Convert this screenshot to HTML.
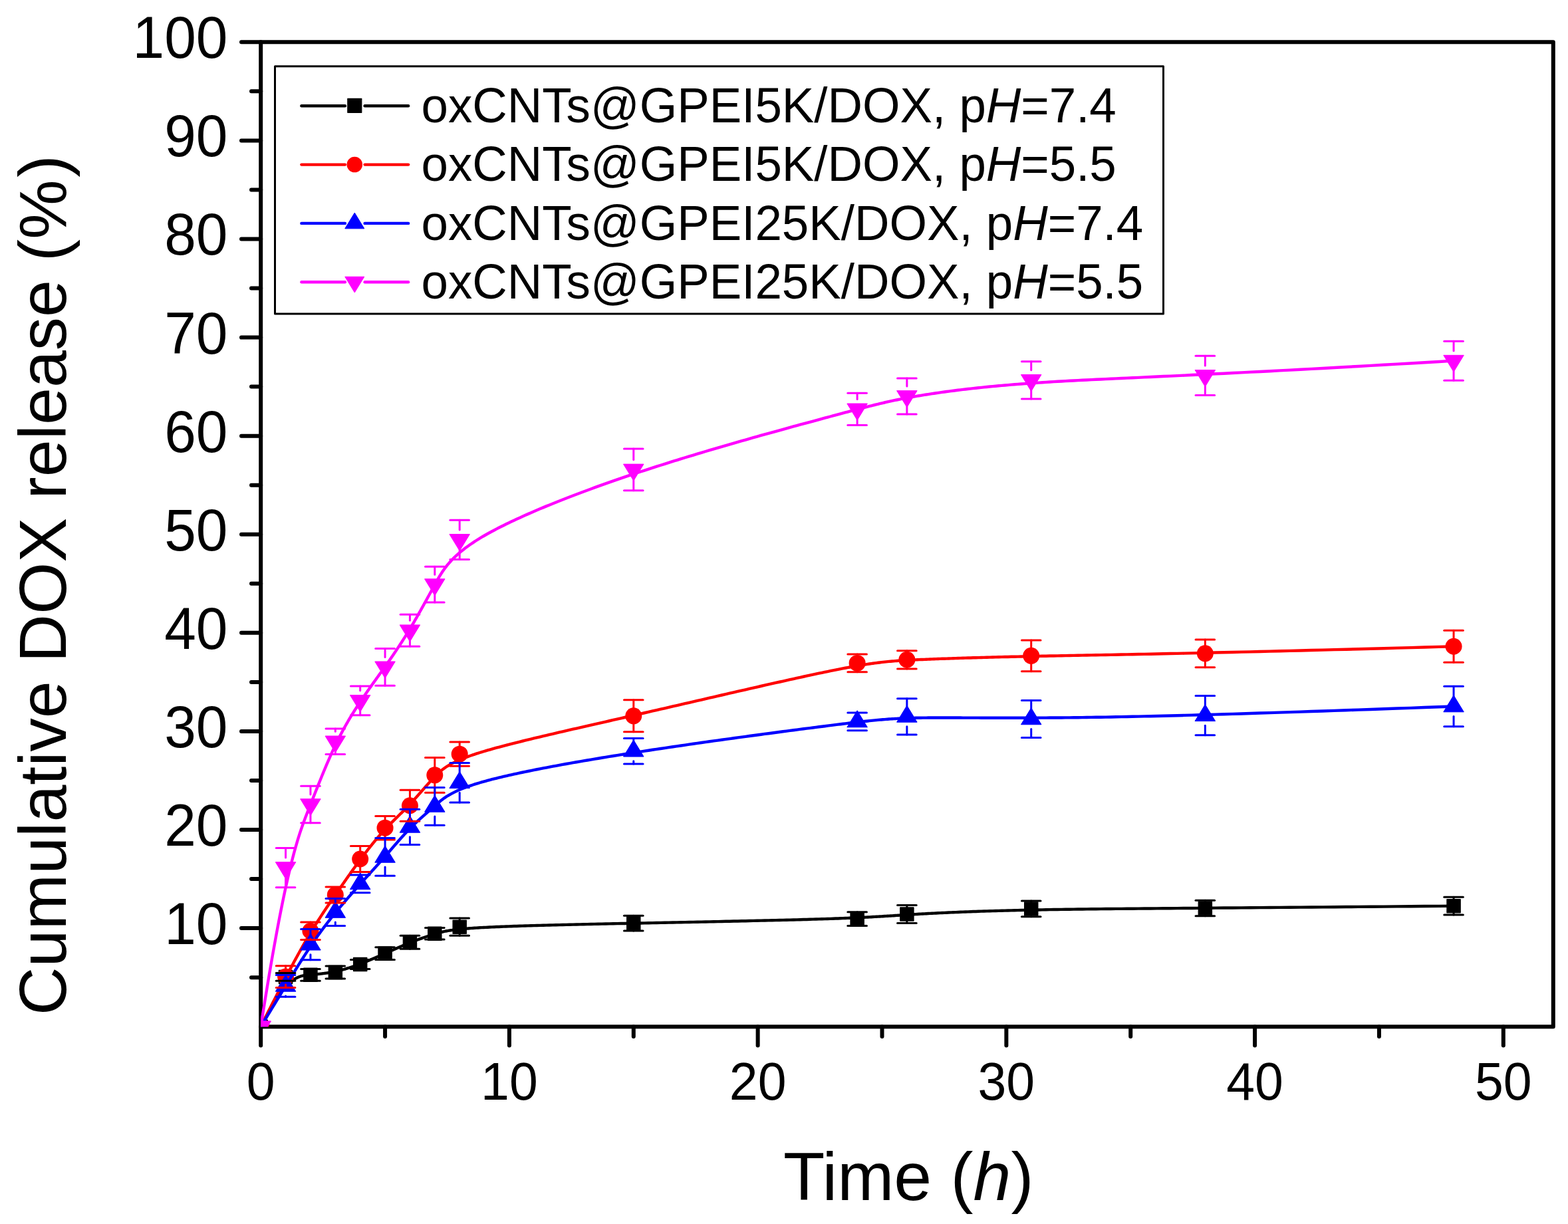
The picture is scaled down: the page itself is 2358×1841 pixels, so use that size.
<!DOCTYPE html>
<html><head><meta charset="utf-8"><title>Cumulative DOX release</title>
<style>html,body{margin:0;padding:0;background:#fff;}svg{display:block;}
text{font-family:"Liberation Sans",Arial,sans-serif;fill:#000;}</style></head>
<body>
<svg width="2358" height="1841" viewBox="0 0 2358 1841">
<rect width="2358" height="1841" fill="#fff"/>
<defs><clipPath id="plot"><rect x="392.2" y="63.3" width="1943.6" height="1480.9"/></clipPath></defs>

<g stroke="#000" stroke-width="6" fill="none" stroke-linecap="round">
<rect x="392.2" y="63.3" width="1943.6" height="1480.9" stroke-linejoin="round"/>
<line x1="392.2" y1="1396.11" x2="363" y2="1396.11"/>
<line x1="392.2" y1="1248.02" x2="363" y2="1248.02"/>
<line x1="392.2" y1="1099.93" x2="363" y2="1099.93"/>
<line x1="392.2" y1="951.84" x2="363" y2="951.84"/>
<line x1="392.2" y1="803.75" x2="363" y2="803.75"/>
<line x1="392.2" y1="655.66" x2="363" y2="655.66"/>
<line x1="392.2" y1="507.57" x2="363" y2="507.57"/>
<line x1="392.2" y1="359.48" x2="363" y2="359.48"/>
<line x1="392.2" y1="211.39" x2="363" y2="211.39"/>
<line x1="392.2" y1="63.30" x2="363" y2="63.30"/>
<line x1="392.2" y1="1470.15" x2="378" y2="1470.15"/>
<line x1="392.2" y1="1322.07" x2="378" y2="1322.07"/>
<line x1="392.2" y1="1173.98" x2="378" y2="1173.98"/>
<line x1="392.2" y1="1025.89" x2="378" y2="1025.89"/>
<line x1="392.2" y1="877.80" x2="378" y2="877.80"/>
<line x1="392.2" y1="729.71" x2="378" y2="729.71"/>
<line x1="392.2" y1="581.62" x2="378" y2="581.62"/>
<line x1="392.2" y1="433.53" x2="378" y2="433.53"/>
<line x1="392.2" y1="285.44" x2="378" y2="285.44"/>
<line x1="392.2" y1="137.35" x2="378" y2="137.35"/>
<line x1="392.20" y1="1544.2" x2="392.20" y2="1572.6"/>
<line x1="765.92" y1="1544.2" x2="765.92" y2="1572.6"/>
<line x1="1139.64" y1="1544.2" x2="1139.64" y2="1572.6"/>
<line x1="1513.36" y1="1544.2" x2="1513.36" y2="1572.6"/>
<line x1="1887.08" y1="1544.2" x2="1887.08" y2="1572.6"/>
<line x1="2260.80" y1="1544.2" x2="2260.80" y2="1572.6"/>
<line x1="579.06" y1="1544.2" x2="579.06" y2="1559"/>
<line x1="952.78" y1="1544.2" x2="952.78" y2="1559"/>
<line x1="1326.50" y1="1544.2" x2="1326.50" y2="1559"/>
<line x1="1700.22" y1="1544.2" x2="1700.22" y2="1559"/>
<line x1="2073.94" y1="1544.2" x2="2073.94" y2="1559"/>
</g>
<text transform="translate(342.4,1420.11) scale(1,1.036)" font-size="85.6" text-anchor="end">10</text>
<text transform="translate(342.4,1272.02) scale(1,1.036)" font-size="85.6" text-anchor="end">20</text>
<text transform="translate(342.4,1123.93) scale(1,1.036)" font-size="85.6" text-anchor="end">30</text>
<text transform="translate(342.4,975.84) scale(1,1.036)" font-size="85.6" text-anchor="end">40</text>
<text transform="translate(342.4,827.75) scale(1,1.036)" font-size="85.6" text-anchor="end">50</text>
<text transform="translate(342.4,679.66) scale(1,1.036)" font-size="85.6" text-anchor="end">60</text>
<text transform="translate(342.4,531.57) scale(1,1.036)" font-size="85.6" text-anchor="end">70</text>
<text transform="translate(342.4,383.48) scale(1,1.036)" font-size="85.6" text-anchor="end">80</text>
<text transform="translate(342.4,235.39) scale(1,1.036)" font-size="85.6" text-anchor="end">90</text>
<text transform="translate(342.4,87.30) scale(1,1.036)" font-size="85.6" text-anchor="end">100</text>
<text transform="translate(392.20,1653.6) scale(1,1.04)" font-size="77" text-anchor="middle">0</text>
<text transform="translate(765.92,1653.6) scale(1,1.04)" font-size="77" text-anchor="middle">10</text>
<text transform="translate(1139.64,1653.6) scale(1,1.04)" font-size="77" text-anchor="middle">20</text>
<text transform="translate(1513.36,1653.6) scale(1,1.04)" font-size="77" text-anchor="middle">30</text>
<text transform="translate(1887.08,1653.6) scale(1,1.04)" font-size="77" text-anchor="middle">40</text>
<text transform="translate(2260.80,1653.6) scale(1,1.04)" font-size="77" text-anchor="middle">50</text>
<text transform="translate(1177.9,1805.2) scale(1,1.0)" font-size="102.2">Time (<tspan font-style="italic">h</tspan>)</text>
<text transform="translate(98.8,1527) rotate(-90)" font-size="100.5">Cumulative DOX release (<tspan letter-spacing="3.5">%</tspan>)</text>
<g clip-path="url(#plot)">
<path d="M392.20,1544.20 L394.42,1539.79 L396.60,1535.56 L398.74,1531.49 L400.83,1527.59 L402.88,1523.86 L404.89,1520.28 L406.86,1516.86 L408.79,1513.59 L410.68,1510.46 L412.54,1507.48 L414.35,1504.65 L416.13,1501.95 L417.87,1499.38 L419.58,1496.94 L421.25,1494.64 L422.89,1492.45 L424.50,1490.39 L426.07,1488.44 L427.61,1486.60 L429.12,1484.88 L430.61,1483.26 L432.06,1481.74 L433.48,1480.32 L434.88,1478.99 L436.25,1477.76 L437.59,1476.62 L438.91,1475.56 L440.20,1474.58 L441.47,1473.68 L442.71,1472.85 L443.94,1472.10 L445.14,1471.41 L446.32,1470.78 L447.48,1470.22 L448.62,1469.71 L449.74,1469.25 L450.85,1468.85 L451.93,1468.49 L453.00,1468.17 L454.06,1467.89 L455.10,1467.64 L456.12,1467.43 L457.14,1467.25 L458.14,1467.09 L459.12,1466.95 L460.10,1466.83 L461.07,1466.73 L462.02,1466.63 L462.97,1466.54 L463.91,1466.46 L464.84,1466.37 L465.76,1466.29 L466.68,1466.21 L467.59,1466.13 L468.49,1466.04 L469.39,1465.96 L470.28,1465.88 L471.16,1465.79 L472.04,1465.71 L472.91,1465.63 L473.78,1465.54 L474.63,1465.46 L475.49,1465.37 L476.34,1465.29 L477.18,1465.20 L478.02,1465.11 L478.85,1465.03 L479.68,1464.94 L480.50,1464.85 L481.32,1464.76 L482.13,1464.67 L482.94,1464.57 L483.74,1464.48 L484.54,1464.38 L485.34,1464.29 L486.13,1464.19 L486.92,1464.09 L487.71,1463.98 L488.49,1463.88 L489.27,1463.78 L490.05,1463.67 L490.82,1463.56 L491.59,1463.45 L492.36,1463.33 L493.13,1463.22 L493.89,1463.10 L494.65,1462.98 L495.42,1462.86 L496.17,1462.73 L496.93,1462.60 L497.69,1462.47 L498.44,1462.34 L499.19,1462.21 L499.94,1462.07 L500.69,1461.92 L501.44,1461.78 L502.19,1461.63 L502.94,1461.48 L503.69,1461.33 L504.44,1461.17 L505.19,1461.01 L505.94,1460.84 L506.69,1460.68 L507.44,1460.51 L508.18,1460.33 L508.93,1460.15 L509.68,1459.97 L510.43,1459.79 L511.18,1459.60 L511.93,1459.41 L512.68,1459.22 L513.43,1459.02 L514.17,1458.83 L514.92,1458.62 L515.67,1458.42 L516.42,1458.21 L517.17,1458.00 L517.92,1457.79 L518.67,1457.57 L519.41,1457.35 L520.16,1457.13 L520.91,1456.91 L521.66,1456.68 L522.41,1456.45 L523.16,1456.22 L523.91,1455.99 L524.66,1455.75 L525.40,1455.51 L526.15,1455.27 L526.90,1455.02 L527.65,1454.78 L528.40,1454.53 L529.15,1454.28 L529.90,1454.02 L530.64,1453.77 L531.39,1453.51 L532.14,1453.25 L532.89,1452.99 L533.64,1452.73 L534.39,1452.46 L535.14,1452.19 L535.89,1451.92 L536.63,1451.65 L537.38,1451.38 L538.13,1451.10 L538.88,1450.82 L539.63,1450.54 L540.38,1450.26 L541.13,1449.98 L541.88,1449.70 L542.62,1449.41 L543.37,1449.12 L544.12,1448.83 L544.87,1448.54 L545.62,1448.25 L546.37,1447.96 L547.12,1447.66 L547.86,1447.36 L548.61,1447.07 L549.36,1446.77 L550.11,1446.47 L550.86,1446.16 L551.61,1445.86 L552.36,1445.55 L553.11,1445.25 L553.85,1444.94 L554.60,1444.63 L555.35,1444.32 L556.10,1444.01 L556.85,1443.70 L557.60,1443.39 L558.35,1443.07 L559.09,1442.76 L559.84,1442.44 L560.59,1442.12 L561.34,1441.80 L562.09,1441.49 L562.84,1441.17 L563.59,1440.84 L564.34,1440.52 L565.08,1440.20 L565.83,1439.88 L566.58,1439.55 L567.33,1439.23 L568.08,1438.90 L568.83,1438.58 L569.58,1438.25 L570.33,1437.92 L571.07,1437.60 L571.82,1437.27 L572.57,1436.94 L573.32,1436.61 L574.07,1436.28 L574.82,1435.95 L575.57,1435.62 L576.31,1435.29 L577.06,1434.96 L577.81,1434.62 L578.56,1434.29 L579.31,1433.96 L580.06,1433.63 L580.81,1433.29 L581.56,1432.96 L582.30,1432.63 L583.05,1432.30 L583.80,1431.96 L584.55,1431.63 L585.30,1431.30 L586.05,1430.96 L586.80,1430.63 L587.55,1430.30 L588.29,1429.97 L589.04,1429.63 L589.79,1429.30 L590.54,1428.97 L591.29,1428.64 L592.04,1428.31 L592.79,1427.98 L593.53,1427.65 L594.28,1427.32 L595.03,1426.99 L595.78,1426.66 L596.53,1426.33 L597.28,1426.00 L598.03,1425.67 L598.78,1425.35 L599.52,1425.02 L600.27,1424.70 L601.02,1424.37 L601.77,1424.05 L602.52,1423.73 L603.27,1423.40 L604.02,1423.08 L604.76,1422.76 L605.51,1422.44 L606.26,1422.13 L607.01,1421.81 L607.76,1421.49 L608.51,1421.18 L609.26,1420.87 L610.01,1420.55 L610.75,1420.24 L611.50,1419.93 L612.25,1419.62 L613.00,1419.32 L613.75,1419.01 L614.50,1418.71 L615.25,1418.40 L616.00,1418.10 L616.74,1417.80 L617.49,1417.51 L618.24,1417.21 L618.99,1416.91 L619.74,1416.62 L620.49,1416.33 L621.24,1416.04 L621.98,1415.75 L622.73,1415.46 L623.48,1415.17 L624.23,1414.89 L624.98,1414.61 L625.73,1414.32 L626.48,1414.04 L627.23,1413.77 L627.97,1413.49 L628.72,1413.21 L629.47,1412.94 L630.22,1412.66 L630.97,1412.39 L631.72,1412.12 L632.47,1411.85 L633.22,1411.59 L633.96,1411.32 L634.71,1411.06 L635.46,1410.79 L636.21,1410.53 L636.96,1410.27 L637.71,1410.01 L638.46,1409.75 L639.20,1409.50 L639.95,1409.24 L640.70,1408.99 L641.45,1408.73 L642.20,1408.48 L642.95,1408.23 L643.70,1407.98 L644.45,1407.74 L645.19,1407.49 L645.94,1407.25 L646.69,1407.00 L647.44,1406.76 L648.19,1406.52 L648.94,1406.28 L649.69,1406.04 L650.43,1405.80 L651.18,1405.57 L651.93,1405.33 L652.68,1405.10 L653.43,1404.86 L654.18,1404.63 L654.93,1404.40 L655.68,1404.17 L656.44,1403.95 L657.20,1403.72 L657.97,1403.49 L658.75,1403.27 L659.55,1403.05 L660.35,1402.83 L661.17,1402.61 L662.01,1402.39 L662.87,1402.17 L663.75,1401.95 L664.65,1401.74 L665.58,1401.52 L666.53,1401.31 L667.51,1401.10 L668.52,1400.89 L669.56,1400.68 L670.63,1400.48 L671.74,1400.27 L672.89,1400.07 L674.07,1399.87 L675.30,1399.66 L676.57,1399.47 L677.88,1399.27 L679.24,1399.07 L680.64,1398.88 L682.10,1398.68 L683.60,1398.49 L685.16,1398.30 L686.78,1398.11 L688.45,1397.92 L690.18,1397.74 L691.97,1397.55 L693.83,1397.37 L695.74,1397.19 L697.73,1397.01 L699.78,1396.83 L701.90,1396.66 L704.09,1396.48 L706.35,1396.31 L708.69,1396.14 L711.10,1395.97 L713.60,1395.80 L716.17,1395.64 L718.83,1395.47 L721.57,1395.31 L724.39,1395.15 L727.31,1394.99 L730.31,1394.83 L733.40,1394.68 L736.58,1394.52 L739.85,1394.37 L743.20,1394.22 L746.64,1394.07 L750.16,1393.93 L753.76,1393.78 L757.44,1393.64 L761.20,1393.49 L765.04,1393.35 L768.96,1393.21 L772.96,1393.07 L777.03,1392.94 L781.17,1392.80 L785.39,1392.66 L789.67,1392.53 L794.03,1392.40 L798.45,1392.27 L802.95,1392.13 L807.51,1392.00 L812.13,1391.88 L816.82,1391.75 L821.57,1391.62 L826.39,1391.49 L831.26,1391.37 L836.19,1391.24 L841.18,1391.12 L846.23,1390.99 L851.34,1390.87 L856.49,1390.75 L861.71,1390.62 L866.97,1390.50 L872.28,1390.38 L877.65,1390.26 L883.06,1390.14 L888.52,1390.02 L894.02,1389.90 L899.57,1389.78 L905.17,1389.66 L910.80,1389.53 L916.48,1389.41 L922.20,1389.29 L927.96,1389.17 L933.75,1389.05 L939.58,1388.93 L945.45,1388.81 L951.35,1388.69 L957.28,1388.57 L963.24,1388.45 L969.24,1388.33 L975.26,1388.21 L981.31,1388.08 L987.38,1387.96 L993.47,1387.84 L999.58,1387.71 L1005.70,1387.59 L1011.84,1387.47 L1017.98,1387.34 L1024.13,1387.22 L1030.28,1387.09 L1036.44,1386.97 L1042.59,1386.84 L1048.74,1386.71 L1054.89,1386.59 L1061.02,1386.46 L1067.14,1386.33 L1073.25,1386.21 L1079.34,1386.08 L1085.40,1385.95 L1091.45,1385.82 L1097.47,1385.69 L1103.46,1385.57 L1109.42,1385.44 L1115.34,1385.31 L1121.23,1385.18 L1127.08,1385.05 L1132.88,1384.92 L1138.64,1384.79 L1144.36,1384.65 L1150.02,1384.52 L1155.63,1384.39 L1161.19,1384.26 L1166.69,1384.13 L1172.12,1383.99 L1177.49,1383.86 L1182.80,1383.73 L1188.04,1383.60 L1193.20,1383.46 L1198.29,1383.33 L1203.30,1383.19 L1208.24,1383.06 L1213.09,1382.93 L1217.85,1382.79 L1222.53,1382.66 L1227.11,1382.52 L1231.61,1382.38 L1236.00,1382.25 L1240.30,1382.11 L1244.49,1381.98 L1248.59,1381.84 L1252.58,1381.70 L1256.46,1381.57 L1260.26,1381.43 L1263.96,1381.29 L1267.56,1381.15 L1271.08,1381.02 L1274.52,1380.88 L1277.87,1380.74 L1281.15,1380.60 L1284.35,1380.46 L1287.48,1380.32 L1290.53,1380.18 L1293.52,1380.04 L1296.45,1379.90 L1299.32,1379.76 L1302.13,1379.62 L1304.88,1379.48 L1307.58,1379.34 L1310.23,1379.20 L1312.84,1379.06 L1315.41,1378.91 L1317.93,1378.77 L1320.42,1378.63 L1322.88,1378.49 L1325.30,1378.34 L1327.70,1378.20 L1330.07,1378.06 L1332.42,1377.91 L1334.76,1377.77 L1337.07,1377.62 L1339.38,1377.48 L1341.67,1377.33 L1343.96,1377.19 L1346.24,1377.04 L1348.53,1376.89 L1350.81,1376.75 L1353.10,1376.60 L1355.40,1376.45 L1357.72,1376.31 L1360.04,1376.16 L1362.39,1376.01 L1364.75,1375.86 L1367.14,1375.71 L1369.55,1375.56 L1371.99,1375.41 L1374.47,1375.26 L1376.98,1375.11 L1379.53,1374.96 L1382.12,1374.81 L1384.76,1374.66 L1387.44,1374.51 L1390.17,1374.36 L1392.94,1374.20 L1395.76,1374.05 L1398.63,1373.90 L1401.55,1373.75 L1404.53,1373.59 L1407.55,1373.44 L1410.62,1373.29 L1413.75,1373.14 L1416.92,1372.99 L1420.16,1372.84 L1423.44,1372.68 L1426.79,1372.53 L1430.18,1372.38 L1433.64,1372.24 L1437.15,1372.09 L1440.73,1371.94 L1444.36,1371.79 L1448.05,1371.65 L1451.80,1371.50 L1455.61,1371.36 L1459.49,1371.21 L1463.42,1371.07 L1467.42,1370.93 L1471.49,1370.79 L1475.62,1370.65 L1479.82,1370.52 L1484.08,1370.38 L1488.41,1370.25 L1492.81,1370.11 L1497.28,1369.98 L1501.82,1369.85 L1506.43,1369.73 L1511.10,1369.60 L1515.86,1369.48 L1520.68,1369.35 L1525.58,1369.23 L1530.55,1369.11 L1535.59,1369.00 L1540.72,1368.88 L1545.91,1368.77 L1551.19,1368.66 L1556.54,1368.56 L1561.98,1368.45 L1567.49,1368.35 L1573.08,1368.25 L1578.75,1368.15 L1584.51,1368.05 L1590.34,1367.96 L1596.27,1367.87 L1602.31,1367.78 L1608.45,1367.70 L1614.71,1367.62 L1621.11,1367.53 L1627.65,1367.45 L1634.34,1367.37 L1641.20,1367.30 L1648.22,1367.22 L1655.43,1367.14 L1662.83,1367.07 L1670.43,1366.99 L1678.25,1366.92 L1686.29,1366.84 L1694.56,1366.77 L1703.07,1366.69 L1711.84,1366.61 L1720.87,1366.54 L1730.17,1366.46 L1739.75,1366.38 L1749.63,1366.30 L1759.81,1366.21 L1770.31,1366.13 L1781.12,1366.04 L1792.27,1365.95 L1803.77,1365.86 L1815.62,1365.77 L1827.83,1365.67 L1840.41,1365.57 L1853.38,1365.47 L1866.74,1365.36 L1880.51,1365.25 L1894.69,1365.14 L1909.29,1365.02 L1924.33,1364.90 L1939.81,1364.77 L1955.75,1364.64 L1972.15,1364.51 L1989.02,1364.36 L2006.38,1364.22 L2024.23,1364.07 L2042.59,1363.91 L2061.46,1363.75 L2080.86,1363.58 L2100.79,1363.41 L2121.26,1363.22 L2142.29,1363.04 L2163.89,1362.84 L2186.06,1362.64" fill="none" stroke="#000000" stroke-width="4.4" stroke-linejoin="round" stroke-linecap="round"/>
<rect x="382.05" y="1534.05" width="20.30" height="20.30" fill="#000000" stroke="#000000" stroke-width="1.2" stroke-linejoin="round"/>
<rect x="419.42" y="1459.26" width="20.30" height="20.30" fill="#000000" stroke="#000000" stroke-width="1.2" stroke-linejoin="round"/>
<rect x="456.79" y="1456.15" width="20.30" height="20.30" fill="#000000" stroke="#000000" stroke-width="1.2" stroke-linejoin="round"/>
<rect x="494.17" y="1452.45" width="20.30" height="20.30" fill="#000000" stroke="#000000" stroke-width="1.2" stroke-linejoin="round"/>
<rect x="531.54" y="1440.31" width="20.30" height="20.30" fill="#000000" stroke="#000000" stroke-width="1.2" stroke-linejoin="round"/>
<rect x="568.91" y="1424.02" width="20.30" height="20.30" fill="#000000" stroke="#000000" stroke-width="1.2" stroke-linejoin="round"/>
<rect x="606.28" y="1407.14" width="20.30" height="20.30" fill="#000000" stroke="#000000" stroke-width="1.2" stroke-linejoin="round"/>
<rect x="643.65" y="1394.10" width="20.30" height="20.30" fill="#000000" stroke="#000000" stroke-width="1.2" stroke-linejoin="round"/>
<rect x="681.03" y="1384.03" width="20.30" height="20.30" fill="#000000" stroke="#000000" stroke-width="1.2" stroke-linejoin="round"/>
<rect x="942.63" y="1378.41" width="20.30" height="20.30" fill="#000000" stroke="#000000" stroke-width="1.2" stroke-linejoin="round"/>
<rect x="1278.98" y="1371.89" width="20.30" height="20.30" fill="#000000" stroke="#000000" stroke-width="1.2" stroke-linejoin="round"/>
<rect x="1353.72" y="1364.78" width="20.30" height="20.30" fill="#000000" stroke="#000000" stroke-width="1.2" stroke-linejoin="round"/>
<rect x="1540.58" y="1356.79" width="20.30" height="20.30" fill="#000000" stroke="#000000" stroke-width="1.2" stroke-linejoin="round"/>
<rect x="1802.19" y="1355.90" width="20.30" height="20.30" fill="#000000" stroke="#000000" stroke-width="1.2" stroke-linejoin="round"/>
<rect x="2175.91" y="1352.49" width="20.30" height="20.30" fill="#000000" stroke="#000000" stroke-width="1.2" stroke-linejoin="round"/>
<path d="M392.20,1544.20 L394.42,1539.74 L396.60,1535.37 L398.74,1531.10 L400.83,1526.92 L402.88,1522.83 L404.89,1518.83 L406.86,1514.92 L408.79,1511.10 L410.68,1507.36 L412.54,1503.71 L414.35,1500.14 L416.13,1496.65 L417.87,1493.24 L419.58,1489.90 L421.25,1486.64 L422.89,1483.46 L424.50,1480.35 L426.07,1477.31 L427.61,1474.34 L429.12,1471.44 L430.61,1468.60 L432.06,1465.83 L433.48,1463.13 L434.88,1460.48 L436.25,1457.90 L437.59,1455.37 L438.91,1452.90 L440.20,1450.49 L441.47,1448.13 L442.71,1445.82 L443.94,1443.57 L445.14,1441.36 L446.32,1439.20 L447.48,1437.09 L448.62,1435.02 L449.74,1433.00 L450.85,1431.01 L451.93,1429.07 L453.00,1427.16 L454.06,1425.29 L455.10,1423.46 L456.12,1421.66 L457.14,1419.89 L458.14,1418.15 L459.12,1416.45 L460.10,1414.76 L461.07,1413.11 L462.02,1411.48 L462.97,1409.87 L463.91,1408.28 L464.84,1406.71 L465.76,1405.17 L466.68,1403.64 L467.59,1402.13 L468.49,1400.63 L469.39,1399.16 L470.28,1397.70 L471.16,1396.26 L472.04,1394.83 L472.91,1393.42 L473.78,1392.03 L474.63,1390.65 L475.49,1389.29 L476.34,1387.94 L477.18,1386.61 L478.02,1385.29 L478.85,1383.98 L479.68,1382.69 L480.50,1381.41 L481.32,1380.14 L482.13,1378.88 L482.94,1377.63 L483.74,1376.40 L484.54,1375.17 L485.34,1373.96 L486.13,1372.76 L486.92,1371.56 L487.71,1370.38 L488.49,1369.20 L489.27,1368.03 L490.05,1366.87 L490.82,1365.72 L491.59,1364.57 L492.36,1363.43 L493.13,1362.30 L493.89,1361.17 L494.65,1360.05 L495.42,1358.93 L496.17,1357.82 L496.93,1356.71 L497.69,1355.61 L498.44,1354.51 L499.19,1353.42 L499.94,1352.32 L500.69,1351.23 L501.44,1350.14 L502.19,1349.06 L502.94,1347.97 L503.69,1346.89 L504.44,1345.80 L505.19,1344.72 L505.94,1343.63 L506.69,1342.55 L507.44,1341.47 L508.18,1340.38 L508.93,1339.30 L509.68,1338.22 L510.43,1337.14 L511.18,1336.06 L511.93,1334.98 L512.68,1333.90 L513.43,1332.82 L514.17,1331.74 L514.92,1330.66 L515.67,1329.59 L516.42,1328.51 L517.17,1327.44 L517.92,1326.37 L518.67,1325.29 L519.41,1324.22 L520.16,1323.15 L520.91,1322.09 L521.66,1321.02 L522.41,1319.95 L523.16,1318.89 L523.91,1317.83 L524.66,1316.77 L525.40,1315.71 L526.15,1314.65 L526.90,1313.60 L527.65,1312.54 L528.40,1311.49 L529.15,1310.44 L529.90,1309.39 L530.64,1308.35 L531.39,1307.30 L532.14,1306.26 L532.89,1305.22 L533.64,1304.18 L534.39,1303.15 L535.14,1302.12 L535.89,1301.09 L536.63,1300.06 L537.38,1299.03 L538.13,1298.01 L538.88,1296.99 L539.63,1295.97 L540.38,1294.96 L541.13,1293.94 L541.88,1292.94 L542.62,1291.93 L543.37,1290.93 L544.12,1289.92 L544.87,1288.93 L545.62,1287.93 L546.37,1286.94 L547.12,1285.95 L547.86,1284.97 L548.61,1283.99 L549.36,1283.01 L550.11,1282.03 L550.86,1281.06 L551.61,1280.09 L552.36,1279.13 L553.11,1278.17 L553.85,1277.21 L554.60,1276.25 L555.35,1275.30 L556.10,1274.36 L556.85,1273.42 L557.60,1272.48 L558.35,1271.54 L559.09,1270.61 L559.84,1269.68 L560.59,1268.76 L561.34,1267.84 L562.09,1266.93 L562.84,1266.02 L563.59,1265.11 L564.34,1264.21 L565.08,1263.31 L565.83,1262.42 L566.58,1261.53 L567.33,1260.65 L568.08,1259.77 L568.83,1258.89 L569.58,1258.02 L570.33,1257.16 L571.07,1256.30 L571.82,1255.44 L572.57,1254.59 L573.32,1253.74 L574.07,1252.90 L574.82,1252.07 L575.57,1251.24 L576.31,1250.41 L577.06,1249.59 L577.81,1248.78 L578.56,1247.96 L579.31,1247.16 L580.06,1246.36 L580.81,1245.57 L581.56,1244.78 L582.30,1243.99 L583.05,1243.21 L583.80,1242.43 L584.55,1241.66 L585.30,1240.89 L586.05,1240.13 L586.80,1239.37 L587.55,1238.61 L588.29,1237.85 L589.04,1237.10 L589.79,1236.35 L590.54,1235.60 L591.29,1234.86 L592.04,1234.12 L592.79,1233.37 L593.53,1232.63 L594.28,1231.90 L595.03,1231.16 L595.78,1230.42 L596.53,1229.69 L597.28,1228.95 L598.03,1228.22 L598.78,1227.48 L599.52,1226.75 L600.27,1226.01 L601.02,1225.27 L601.77,1224.54 L602.52,1223.80 L603.27,1223.06 L604.02,1222.32 L604.76,1221.58 L605.51,1220.84 L606.26,1220.09 L607.01,1219.34 L607.76,1218.59 L608.51,1217.84 L609.26,1217.09 L610.01,1216.33 L610.75,1215.57 L611.50,1214.80 L612.25,1214.03 L613.00,1213.26 L613.75,1212.48 L614.50,1211.70 L615.25,1210.92 L616.00,1210.13 L616.74,1209.33 L617.49,1208.53 L618.24,1207.73 L618.99,1206.92 L619.74,1206.11 L620.49,1205.29 L621.24,1204.47 L621.98,1203.65 L622.73,1202.82 L623.48,1201.99 L624.23,1201.15 L624.98,1200.32 L625.73,1199.48 L626.48,1198.63 L627.23,1197.79 L627.97,1196.94 L628.72,1196.10 L629.47,1195.25 L630.22,1194.40 L630.97,1193.55 L631.72,1192.70 L632.47,1191.84 L633.22,1190.99 L633.96,1190.14 L634.71,1189.28 L635.46,1188.43 L636.21,1187.58 L636.96,1186.73 L637.71,1185.87 L638.46,1185.03 L639.20,1184.18 L639.95,1183.33 L640.70,1182.48 L641.45,1181.64 L642.20,1180.80 L642.95,1179.96 L643.70,1179.12 L644.45,1178.29 L645.19,1177.46 L645.94,1176.63 L646.69,1175.81 L647.44,1174.99 L648.19,1174.17 L648.94,1173.36 L649.69,1172.55 L650.43,1171.75 L651.18,1170.95 L651.93,1170.16 L652.68,1169.37 L653.43,1168.59 L654.18,1167.81 L654.93,1167.04 L655.68,1166.27 L656.44,1165.51 L657.20,1164.75 L657.97,1164.00 L658.75,1163.25 L659.55,1162.51 L660.35,1161.77 L661.17,1161.03 L662.01,1160.29 L662.87,1159.56 L663.75,1158.82 L664.65,1158.09 L665.58,1157.37 L666.53,1156.64 L667.51,1155.91 L668.52,1155.18 L669.56,1154.46 L670.63,1153.73 L671.74,1153.00 L672.89,1152.28 L674.07,1151.55 L675.30,1150.82 L676.57,1150.08 L677.88,1149.35 L679.24,1148.61 L680.64,1147.87 L682.10,1147.13 L683.60,1146.38 L685.16,1145.63 L686.78,1144.88 L688.45,1144.12 L690.18,1143.36 L691.97,1142.59 L693.83,1141.81 L695.74,1141.03 L697.73,1140.25 L699.78,1139.46 L701.90,1138.66 L704.09,1137.85 L706.35,1137.04 L708.69,1136.22 L711.10,1135.39 L713.60,1134.56 L716.17,1133.71 L718.83,1132.86 L721.57,1131.99 L724.39,1131.12 L727.31,1130.24 L730.31,1129.35 L733.40,1128.44 L736.58,1127.53 L739.85,1126.61 L743.20,1125.68 L746.64,1124.73 L750.16,1123.78 L753.76,1122.81 L757.44,1121.84 L761.20,1120.86 L765.04,1119.86 L768.96,1118.86 L772.96,1117.85 L777.03,1116.82 L781.17,1115.79 L785.39,1114.75 L789.67,1113.69 L794.03,1112.63 L798.45,1111.56 L802.95,1110.47 L807.51,1109.38 L812.13,1108.28 L816.82,1107.17 L821.57,1106.05 L826.39,1104.92 L831.26,1103.78 L836.19,1102.63 L841.18,1101.47 L846.23,1100.30 L851.34,1099.12 L856.49,1097.93 L861.71,1096.73 L866.97,1095.53 L872.28,1094.31 L877.65,1093.09 L883.06,1091.85 L888.52,1090.61 L894.02,1089.35 L899.57,1088.09 L905.17,1086.82 L910.80,1085.54 L916.48,1084.25 L922.20,1082.95 L927.96,1081.64 L933.75,1080.33 L939.58,1079.00 L945.45,1077.66 L951.35,1076.32 L957.28,1074.97 L963.24,1073.61 L969.24,1072.24 L975.26,1070.86 L981.31,1069.47 L987.38,1068.08 L993.47,1066.68 L999.58,1065.27 L1005.70,1063.86 L1011.84,1062.45 L1017.98,1061.04 L1024.13,1059.62 L1030.28,1058.20 L1036.44,1056.78 L1042.59,1055.36 L1048.74,1053.94 L1054.89,1052.52 L1061.02,1051.11 L1067.14,1049.70 L1073.25,1048.29 L1079.34,1046.89 L1085.40,1045.49 L1091.45,1044.10 L1097.47,1042.72 L1103.46,1041.34 L1109.42,1039.98 L1115.34,1038.62 L1121.23,1037.27 L1127.08,1035.94 L1132.88,1034.61 L1138.64,1033.30 L1144.36,1032.00 L1150.02,1030.72 L1155.63,1029.45 L1161.19,1028.20 L1166.69,1026.96 L1172.12,1025.74 L1177.49,1024.54 L1182.80,1023.35 L1188.04,1022.19 L1193.20,1021.05 L1198.29,1019.92 L1203.30,1018.82 L1208.24,1017.75 L1213.09,1016.69 L1217.85,1015.66 L1222.53,1014.66 L1227.11,1013.68 L1231.61,1012.72 L1236.00,1011.80 L1240.30,1010.90 L1244.49,1010.03 L1248.59,1009.19 L1252.58,1008.38 L1256.46,1007.60 L1260.26,1006.85 L1263.96,1006.12 L1267.56,1005.42 L1271.08,1004.75 L1274.52,1004.10 L1277.87,1003.48 L1281.15,1002.88 L1284.35,1002.31 L1287.48,1001.76 L1290.53,1001.23 L1293.52,1000.72 L1296.45,1000.24 L1299.32,999.78 L1302.13,999.34 L1304.88,998.91 L1307.58,998.51 L1310.23,998.12 L1312.84,997.76 L1315.41,997.40 L1317.93,997.07 L1320.42,996.75 L1322.88,996.45 L1325.30,996.16 L1327.70,995.89 L1330.07,995.63 L1332.42,995.39 L1334.76,995.15 L1337.07,994.93 L1339.38,994.72 L1341.67,994.52 L1343.96,994.33 L1346.24,994.15 L1348.53,993.98 L1350.81,993.81 L1353.10,993.66 L1355.40,993.51 L1357.72,993.37 L1360.04,993.23 L1362.39,993.10 L1364.75,992.97 L1367.14,992.85 L1369.55,992.73 L1371.99,992.61 L1374.47,992.50 L1376.98,992.39 L1379.53,992.27 L1382.12,992.16 L1384.76,992.05 L1387.44,991.94 L1390.17,991.83 L1392.94,991.72 L1395.76,991.60 L1398.63,991.49 L1401.55,991.38 L1404.53,991.27 L1407.55,991.15 L1410.62,991.04 L1413.75,990.92 L1416.92,990.81 L1420.16,990.70 L1423.44,990.58 L1426.79,990.47 L1430.18,990.35 L1433.64,990.24 L1437.15,990.12 L1440.73,990.01 L1444.36,989.89 L1448.05,989.78 L1451.80,989.66 L1455.61,989.55 L1459.49,989.43 L1463.42,989.32 L1467.42,989.20 L1471.49,989.09 L1475.62,988.97 L1479.82,988.86 L1484.08,988.74 L1488.41,988.63 L1492.81,988.51 L1497.28,988.40 L1501.82,988.28 L1506.43,988.17 L1511.10,988.05 L1515.86,987.94 L1520.68,987.82 L1525.58,987.71 L1530.55,987.59 L1535.59,987.48 L1540.72,987.36 L1545.91,987.25 L1551.19,987.13 L1556.54,987.02 L1561.98,986.91 L1567.49,986.79 L1573.08,986.68 L1578.75,986.57 L1584.51,986.45 L1590.34,986.34 L1596.27,986.23 L1602.31,986.11 L1608.45,986.00 L1614.71,985.88 L1621.11,985.77 L1627.65,985.65 L1634.34,985.52 L1641.20,985.40 L1648.22,985.27 L1655.43,985.13 L1662.83,985.00 L1670.43,984.85 L1678.25,984.71 L1686.29,984.55 L1694.56,984.39 L1703.07,984.23 L1711.84,984.05 L1720.87,983.87 L1730.17,983.68 L1739.75,983.49 L1749.63,983.28 L1759.81,983.07 L1770.31,982.84 L1781.12,982.61 L1792.27,982.37 L1803.77,982.11 L1815.62,981.84 L1827.83,981.57 L1840.41,981.28 L1853.38,980.97 L1866.74,980.66 L1880.51,980.33 L1894.69,979.99 L1909.29,979.63 L1924.33,979.26 L1939.81,978.87 L1955.75,978.47 L1972.15,978.05 L1989.02,977.61 L2006.38,977.16 L2024.23,976.69 L2042.59,976.21 L2061.46,975.70 L2080.86,975.18 L2100.79,974.64 L2121.26,974.08 L2142.29,973.50 L2163.89,972.90 L2186.06,972.28" fill="none" stroke="#ff0000" stroke-width="4.4" stroke-linejoin="round" stroke-linecap="round"/>
<circle cx="392.20" cy="1544.20" r="12.50" fill="#ff0000"/>
<circle cx="429.57" cy="1469.12" r="12.50" fill="#ff0000"/>
<circle cx="466.94" cy="1400.26" r="12.50" fill="#ff0000"/>
<circle cx="504.32" cy="1345.91" r="12.50" fill="#ff0000"/>
<circle cx="541.69" cy="1292.00" r="12.50" fill="#ff0000"/>
<circle cx="579.06" cy="1245.21" r="12.50" fill="#ff0000"/>
<circle cx="616.43" cy="1211.74" r="12.50" fill="#ff0000"/>
<circle cx="653.80" cy="1165.83" r="12.50" fill="#ff0000"/>
<circle cx="691.18" cy="1134.14" r="12.50" fill="#ff0000"/>
<circle cx="952.78" cy="1076.83" r="12.50" fill="#ff0000"/>
<circle cx="1289.13" cy="997.45" r="12.50" fill="#ff0000"/>
<circle cx="1363.87" cy="992.27" r="12.50" fill="#ff0000"/>
<circle cx="1550.73" cy="986.34" r="12.50" fill="#ff0000"/>
<circle cx="1812.34" cy="982.79" r="12.50" fill="#ff0000"/>
<circle cx="2186.06" cy="972.28" r="12.50" fill="#ff0000"/>
<path d="M392.20,1544.20 L394.42,1540.55 L396.60,1536.97 L398.74,1533.47 L400.83,1530.03 L402.88,1526.66 L404.89,1523.36 L406.86,1520.13 L408.79,1516.96 L410.68,1513.85 L412.54,1510.81 L414.35,1507.83 L416.13,1504.90 L417.87,1502.04 L419.58,1499.24 L421.25,1496.50 L422.89,1493.81 L424.50,1491.17 L426.07,1488.59 L427.61,1486.07 L429.12,1483.59 L430.61,1481.17 L432.06,1478.79 L433.48,1476.47 L434.88,1474.19 L436.25,1471.95 L437.59,1469.77 L438.91,1467.62 L440.20,1465.52 L441.47,1463.47 L442.71,1461.45 L443.94,1459.47 L445.14,1457.53 L446.32,1455.63 L447.48,1453.77 L448.62,1451.94 L449.74,1450.15 L450.85,1448.38 L451.93,1446.65 L453.00,1444.96 L454.06,1443.29 L455.10,1441.65 L456.12,1440.04 L457.14,1438.45 L458.14,1436.89 L459.12,1435.35 L460.10,1433.84 L461.07,1432.35 L462.02,1430.88 L462.97,1429.43 L463.91,1428.00 L464.84,1426.59 L465.76,1425.20 L466.68,1423.82 L467.59,1422.46 L468.49,1421.12 L469.39,1419.79 L470.28,1418.48 L471.16,1417.18 L472.04,1415.90 L472.91,1414.63 L473.78,1413.38 L474.63,1412.15 L475.49,1410.93 L476.34,1409.72 L477.18,1408.52 L478.02,1407.34 L478.85,1406.17 L479.68,1405.02 L480.50,1403.87 L481.32,1402.74 L482.13,1401.62 L482.94,1400.51 L483.74,1399.42 L484.54,1398.33 L485.34,1397.25 L486.13,1396.19 L486.92,1395.13 L487.71,1394.08 L488.49,1393.05 L489.27,1392.02 L490.05,1391.00 L490.82,1389.99 L491.59,1388.98 L492.36,1387.98 L493.13,1387.00 L493.89,1386.01 L494.65,1385.04 L495.42,1384.07 L496.17,1383.11 L496.93,1382.15 L497.69,1381.20 L498.44,1380.25 L499.19,1379.31 L499.94,1378.37 L500.69,1377.44 L501.44,1376.51 L502.19,1375.59 L502.94,1374.67 L503.69,1373.75 L504.44,1372.83 L505.19,1371.92 L505.94,1371.01 L506.69,1370.10 L507.44,1369.19 L508.18,1368.29 L508.93,1367.38 L509.68,1366.48 L510.43,1365.59 L511.18,1364.69 L511.93,1363.80 L512.68,1362.91 L513.43,1362.02 L514.17,1361.13 L514.92,1360.25 L515.67,1359.36 L516.42,1358.48 L517.17,1357.60 L517.92,1356.73 L518.67,1355.85 L519.41,1354.98 L520.16,1354.11 L520.91,1353.24 L521.66,1352.37 L522.41,1351.50 L523.16,1350.64 L523.91,1349.78 L524.66,1348.92 L525.40,1348.06 L526.15,1347.20 L526.90,1346.34 L527.65,1345.49 L528.40,1344.63 L529.15,1343.78 L529.90,1342.93 L530.64,1342.08 L531.39,1341.23 L532.14,1340.38 L532.89,1339.54 L533.64,1338.70 L534.39,1337.85 L535.14,1337.01 L535.89,1336.17 L536.63,1335.33 L537.38,1334.49 L538.13,1333.66 L538.88,1332.82 L539.63,1331.98 L540.38,1331.15 L541.13,1330.32 L541.88,1329.48 L542.62,1328.65 L543.37,1327.82 L544.12,1326.99 L544.87,1326.16 L545.62,1325.33 L546.37,1324.51 L547.12,1323.68 L547.86,1322.85 L548.61,1322.02 L549.36,1321.20 L550.11,1320.37 L550.86,1319.55 L551.61,1318.72 L552.36,1317.90 L553.11,1317.07 L553.85,1316.25 L554.60,1315.42 L555.35,1314.60 L556.10,1313.77 L556.85,1312.95 L557.60,1312.12 L558.35,1311.30 L559.09,1310.47 L559.84,1309.64 L560.59,1308.82 L561.34,1307.99 L562.09,1307.16 L562.84,1306.33 L563.59,1305.50 L564.34,1304.67 L565.08,1303.84 L565.83,1303.01 L566.58,1302.18 L567.33,1301.35 L568.08,1300.51 L568.83,1299.68 L569.58,1298.84 L570.33,1298.00 L571.07,1297.16 L571.82,1296.32 L572.57,1295.48 L573.32,1294.64 L574.07,1293.80 L574.82,1292.95 L575.57,1292.10 L576.31,1291.25 L577.06,1290.40 L577.81,1289.55 L578.56,1288.70 L579.31,1287.84 L580.06,1286.98 L580.81,1286.13 L581.56,1285.27 L582.30,1284.40 L583.05,1283.54 L583.80,1282.68 L584.55,1281.81 L585.30,1280.95 L586.05,1280.08 L586.80,1279.21 L587.55,1278.35 L588.29,1277.48 L589.04,1276.61 L589.79,1275.74 L590.54,1274.88 L591.29,1274.01 L592.04,1273.15 L592.79,1272.28 L593.53,1271.42 L594.28,1270.55 L595.03,1269.69 L595.78,1268.83 L596.53,1267.97 L597.28,1267.12 L598.03,1266.26 L598.78,1265.41 L599.52,1264.56 L600.27,1263.71 L601.02,1262.86 L601.77,1262.02 L602.52,1261.17 L603.27,1260.34 L604.02,1259.50 L604.76,1258.67 L605.51,1257.84 L606.26,1257.01 L607.01,1256.19 L607.76,1255.37 L608.51,1254.56 L609.26,1253.75 L610.01,1252.94 L610.75,1252.14 L611.50,1251.34 L612.25,1250.55 L613.00,1249.76 L613.75,1248.98 L614.50,1248.20 L615.25,1247.43 L616.00,1246.66 L616.74,1245.90 L617.49,1245.15 L618.24,1244.40 L618.99,1243.65 L619.74,1242.91 L620.49,1242.18 L621.24,1241.44 L621.98,1240.72 L622.73,1240.00 L623.48,1239.28 L624.23,1238.57 L624.98,1237.86 L625.73,1237.16 L626.48,1236.46 L627.23,1235.76 L627.97,1235.07 L628.72,1234.37 L629.47,1233.69 L630.22,1233.00 L630.97,1232.32 L631.72,1231.64 L632.47,1230.97 L633.22,1230.29 L633.96,1229.62 L634.71,1228.95 L635.46,1228.29 L636.21,1227.62 L636.96,1226.96 L637.71,1226.30 L638.46,1225.63 L639.20,1224.97 L639.95,1224.32 L640.70,1223.66 L641.45,1223.00 L642.20,1222.34 L642.95,1221.69 L643.70,1221.03 L644.45,1220.38 L645.19,1219.72 L645.94,1219.07 L646.69,1218.41 L647.44,1217.75 L648.19,1217.10 L648.94,1216.44 L649.69,1215.78 L650.43,1215.12 L651.18,1214.46 L651.93,1213.80 L652.68,1213.13 L653.43,1212.47 L654.18,1211.80 L654.93,1211.13 L655.68,1210.46 L656.44,1209.78 L657.20,1209.11 L657.97,1208.43 L658.75,1207.75 L659.55,1207.07 L660.35,1206.38 L661.17,1205.70 L662.01,1205.01 L662.87,1204.32 L663.75,1203.62 L664.65,1202.92 L665.58,1202.22 L666.53,1201.52 L667.51,1200.82 L668.52,1200.11 L669.56,1199.40 L670.63,1198.68 L671.74,1197.97 L672.89,1197.25 L674.07,1196.52 L675.30,1195.80 L676.57,1195.07 L677.88,1194.33 L679.24,1193.60 L680.64,1192.86 L682.10,1192.12 L683.60,1191.37 L685.16,1190.62 L686.78,1189.86 L688.45,1189.11 L690.18,1188.35 L691.97,1187.58 L693.83,1186.81 L695.74,1186.04 L697.73,1185.26 L699.78,1184.48 L701.90,1183.70 L704.09,1182.91 L706.35,1182.11 L708.69,1181.31 L711.10,1180.51 L713.60,1179.71 L716.17,1178.89 L718.83,1178.08 L721.57,1177.26 L724.39,1176.43 L727.31,1175.61 L730.31,1174.77 L733.40,1173.93 L736.58,1173.09 L739.85,1172.24 L743.20,1171.39 L746.64,1170.53 L750.16,1169.67 L753.76,1168.81 L757.44,1167.94 L761.20,1167.07 L765.04,1166.19 L768.96,1165.31 L772.96,1164.43 L777.03,1163.55 L781.17,1162.66 L785.39,1161.77 L789.67,1160.87 L794.03,1159.98 L798.45,1159.08 L802.95,1158.17 L807.51,1157.27 L812.13,1156.36 L816.82,1155.45 L821.57,1154.54 L826.39,1153.63 L831.26,1152.71 L836.19,1151.80 L841.18,1150.88 L846.23,1149.96 L851.34,1149.04 L856.49,1148.12 L861.71,1147.20 L866.97,1146.27 L872.28,1145.35 L877.65,1144.42 L883.06,1143.50 L888.52,1142.57 L894.02,1141.64 L899.57,1140.72 L905.17,1139.79 L910.80,1138.86 L916.48,1137.94 L922.20,1137.01 L927.96,1136.08 L933.75,1135.16 L939.58,1134.24 L945.45,1133.31 L951.35,1132.39 L957.28,1131.47 L963.24,1130.55 L969.24,1129.63 L975.26,1128.71 L981.31,1127.79 L987.38,1126.88 L993.47,1125.97 L999.58,1125.06 L1005.70,1124.15 L1011.84,1123.25 L1017.98,1122.35 L1024.13,1121.45 L1030.28,1120.56 L1036.44,1119.67 L1042.59,1118.79 L1048.74,1117.91 L1054.89,1117.03 L1061.02,1116.16 L1067.14,1115.30 L1073.25,1114.44 L1079.34,1113.59 L1085.40,1112.75 L1091.45,1111.91 L1097.47,1111.08 L1103.46,1110.25 L1109.42,1109.43 L1115.34,1108.62 L1121.23,1107.82 L1127.08,1107.03 L1132.88,1106.24 L1138.64,1105.47 L1144.36,1104.70 L1150.02,1103.94 L1155.63,1103.20 L1161.19,1102.46 L1166.69,1101.73 L1172.12,1101.01 L1177.49,1100.30 L1182.80,1099.61 L1188.04,1098.92 L1193.20,1098.25 L1198.29,1097.59 L1203.30,1096.94 L1208.24,1096.30 L1213.09,1095.67 L1217.85,1095.06 L1222.53,1094.46 L1227.11,1093.87 L1231.61,1093.30 L1236.00,1092.74 L1240.30,1092.20 L1244.49,1091.67 L1248.59,1091.15 L1252.58,1090.65 L1256.46,1090.17 L1260.26,1089.69 L1263.96,1089.23 L1267.56,1088.79 L1271.08,1088.36 L1274.52,1087.94 L1277.87,1087.54 L1281.15,1087.14 L1284.35,1086.77 L1287.48,1086.40 L1290.53,1086.05 L1293.52,1085.70 L1296.45,1085.37 L1299.32,1085.06 L1302.13,1084.75 L1304.88,1084.45 L1307.58,1084.17 L1310.23,1083.89 L1312.84,1083.63 L1315.41,1083.38 L1317.93,1083.14 L1320.42,1082.90 L1322.88,1082.68 L1325.30,1082.47 L1327.70,1082.27 L1330.07,1082.07 L1332.42,1081.89 L1334.76,1081.71 L1337.07,1081.54 L1339.38,1081.38 L1341.67,1081.23 L1343.96,1081.09 L1346.24,1080.96 L1348.53,1080.83 L1350.81,1080.71 L1353.10,1080.59 L1355.40,1080.49 L1357.72,1080.39 L1360.04,1080.30 L1362.39,1080.21 L1364.75,1080.13 L1367.14,1080.06 L1369.55,1079.99 L1371.99,1079.92 L1374.47,1079.87 L1376.98,1079.81 L1379.53,1079.77 L1382.12,1079.72 L1384.76,1079.68 L1387.44,1079.65 L1390.17,1079.62 L1392.94,1079.59 L1395.76,1079.57 L1398.63,1079.55 L1401.55,1079.54 L1404.53,1079.52 L1407.55,1079.52 L1410.62,1079.51 L1413.75,1079.51 L1416.92,1079.50 L1420.16,1079.51 L1423.44,1079.51 L1426.79,1079.51 L1430.18,1079.52 L1433.64,1079.53 L1437.15,1079.54 L1440.73,1079.55 L1444.36,1079.56 L1448.05,1079.58 L1451.80,1079.59 L1455.61,1079.61 L1459.49,1079.62 L1463.42,1079.64 L1467.42,1079.65 L1471.49,1079.66 L1475.62,1079.68 L1479.82,1079.69 L1484.08,1079.71 L1488.41,1079.72 L1492.81,1079.73 L1497.28,1079.74 L1501.82,1079.75 L1506.43,1079.75 L1511.10,1079.76 L1515.86,1079.76 L1520.68,1079.76 L1525.58,1079.76 L1530.55,1079.76 L1535.59,1079.75 L1540.72,1079.74 L1545.91,1079.73 L1551.19,1079.71 L1556.54,1079.69 L1561.98,1079.67 L1567.49,1079.64 L1573.08,1079.61 L1578.75,1079.57 L1584.51,1079.53 L1590.34,1079.49 L1596.27,1079.44 L1602.31,1079.39 L1608.45,1079.33 L1614.71,1079.26 L1621.11,1079.19 L1627.65,1079.10 L1634.34,1079.02 L1641.20,1078.92 L1648.22,1078.81 L1655.43,1078.70 L1662.83,1078.58 L1670.43,1078.44 L1678.25,1078.30 L1686.29,1078.15 L1694.56,1077.98 L1703.07,1077.80 L1711.84,1077.61 L1720.87,1077.41 L1730.17,1077.20 L1739.75,1076.97 L1749.63,1076.73 L1759.81,1076.47 L1770.31,1076.20 L1781.12,1075.91 L1792.27,1075.61 L1803.77,1075.29 L1815.62,1074.95 L1827.83,1074.60 L1840.41,1074.23 L1853.38,1073.84 L1866.74,1073.44 L1880.51,1073.01 L1894.69,1072.57 L1909.29,1072.10 L1924.33,1071.62 L1939.81,1071.11 L1955.75,1070.59 L1972.15,1070.04 L1989.02,1069.47 L2006.38,1068.88 L2024.23,1068.26 L2042.59,1067.62 L2061.46,1066.96 L2080.86,1066.27 L2100.79,1065.56 L2121.26,1064.83 L2142.29,1064.07 L2163.89,1063.28 L2186.06,1062.46" fill="none" stroke="#0000ff" stroke-width="4.4" stroke-linejoin="round" stroke-linecap="round"/>
<polygon points="392.20,1527.53 407.45,1552.53 376.95,1552.53" fill="#0000ff" stroke="#0000ff" stroke-width="1" stroke-linejoin="round"/>
<polygon points="429.57,1466.22 444.82,1491.22 414.32,1491.22" fill="#0000ff" stroke="#0000ff" stroke-width="1" stroke-linejoin="round"/>
<polygon points="466.94,1404.03 482.19,1429.03 451.69,1429.03" fill="#0000ff" stroke="#0000ff" stroke-width="1" stroke-linejoin="round"/>
<polygon points="504.32,1355.30 519.57,1380.30 489.07,1380.30" fill="#0000ff" stroke="#0000ff" stroke-width="1" stroke-linejoin="round"/>
<polygon points="541.69,1312.65 556.94,1337.65 526.44,1337.65" fill="#0000ff" stroke="#0000ff" stroke-width="1" stroke-linejoin="round"/>
<polygon points="579.06,1272.23 594.31,1297.23 563.81,1297.23" fill="#0000ff" stroke="#0000ff" stroke-width="1" stroke-linejoin="round"/>
<polygon points="616.43,1227.21 631.68,1252.21 601.18,1252.21" fill="#0000ff" stroke="#0000ff" stroke-width="1" stroke-linejoin="round"/>
<polygon points="653.80,1196.26 669.05,1221.26 638.55,1221.26" fill="#0000ff" stroke="#0000ff" stroke-width="1" stroke-linejoin="round"/>
<polygon points="691.18,1160.57 706.43,1185.57 675.93,1185.57" fill="#0000ff" stroke="#0000ff" stroke-width="1" stroke-linejoin="round"/>
<polygon points="952.78,1113.03 968.03,1138.03 937.53,1138.03" fill="#0000ff" stroke="#0000ff" stroke-width="1" stroke-linejoin="round"/>
<polygon points="1289.13,1068.75 1304.38,1093.75 1273.88,1093.75" fill="#0000ff" stroke="#0000ff" stroke-width="1" stroke-linejoin="round"/>
<polygon points="1363.87,1061.20 1379.12,1086.20 1348.62,1086.20" fill="#0000ff" stroke="#0000ff" stroke-width="1" stroke-linejoin="round"/>
<polygon points="1550.73,1064.75 1565.98,1089.75 1535.48,1089.75" fill="#0000ff" stroke="#0000ff" stroke-width="1" stroke-linejoin="round"/>
<polygon points="1812.34,1059.57 1827.59,1084.57 1797.09,1084.57" fill="#0000ff" stroke="#0000ff" stroke-width="1" stroke-linejoin="round"/>
<polygon points="2186.06,1045.80 2201.31,1070.80 2170.81,1070.80" fill="#0000ff" stroke="#0000ff" stroke-width="1" stroke-linejoin="round"/>
<path d="M392.20,1544.20 L394.42,1530.06 L396.60,1516.36 L398.74,1503.12 L400.83,1490.30 L402.88,1477.91 L404.89,1465.94 L406.86,1454.38 L408.79,1443.22 L410.68,1432.45 L412.54,1422.06 L414.35,1412.04 L416.13,1402.39 L417.87,1393.09 L419.58,1384.14 L421.25,1375.52 L422.89,1367.24 L424.50,1359.27 L426.07,1351.61 L427.61,1344.26 L429.12,1337.20 L430.61,1330.42 L432.06,1323.92 L433.48,1317.69 L434.88,1311.71 L436.25,1305.99 L437.59,1300.50 L438.91,1295.24 L440.20,1290.21 L441.47,1285.39 L442.71,1280.77 L443.94,1276.35 L445.14,1272.12 L446.32,1268.06 L447.48,1264.17 L448.62,1260.45 L449.74,1256.87 L450.85,1253.44 L451.93,1250.14 L453.00,1246.97 L454.06,1243.91 L455.10,1240.96 L456.12,1238.11 L457.14,1235.34 L458.14,1232.66 L459.12,1230.05 L460.10,1227.50 L461.07,1225.01 L462.02,1222.56 L462.97,1220.15 L463.91,1217.76 L464.84,1215.39 L465.76,1213.05 L466.68,1210.72 L467.59,1208.41 L468.49,1206.12 L469.39,1203.85 L470.28,1201.60 L471.16,1199.37 L472.04,1197.15 L472.91,1194.95 L473.78,1192.78 L474.63,1190.61 L475.49,1188.47 L476.34,1186.34 L477.18,1184.24 L478.02,1182.15 L478.85,1180.07 L479.68,1178.02 L480.50,1175.98 L481.32,1173.96 L482.13,1171.95 L482.94,1169.96 L483.74,1167.99 L484.54,1166.03 L485.34,1164.10 L486.13,1162.17 L486.92,1160.27 L487.71,1158.38 L488.49,1156.50 L489.27,1154.64 L490.05,1152.80 L490.82,1150.97 L491.59,1149.16 L492.36,1147.36 L493.13,1145.58 L493.89,1143.81 L494.65,1142.06 L495.42,1140.33 L496.17,1138.60 L496.93,1136.90 L497.69,1135.20 L498.44,1133.53 L499.19,1131.86 L499.94,1130.21 L500.69,1128.57 L501.44,1126.95 L502.19,1125.34 L502.94,1123.75 L503.69,1122.17 L504.44,1120.60 L505.19,1119.05 L505.94,1117.50 L506.69,1115.97 L507.44,1114.46 L508.18,1112.96 L508.93,1111.46 L509.68,1109.99 L510.43,1108.52 L511.18,1107.06 L511.93,1105.62 L512.68,1104.19 L513.43,1102.77 L514.17,1101.36 L514.92,1099.96 L515.67,1098.57 L516.42,1097.20 L517.17,1095.83 L517.92,1094.48 L518.67,1093.13 L519.41,1091.79 L520.16,1090.47 L520.91,1089.15 L521.66,1087.84 L522.41,1086.54 L523.16,1085.25 L523.91,1083.97 L524.66,1082.70 L525.40,1081.44 L526.15,1080.18 L526.90,1078.94 L527.65,1077.70 L528.40,1076.47 L529.15,1075.24 L529.90,1074.02 L530.64,1072.82 L531.39,1071.61 L532.14,1070.42 L532.89,1069.23 L533.64,1068.05 L534.39,1066.87 L535.14,1065.70 L535.89,1064.54 L536.63,1063.38 L537.38,1062.23 L538.13,1061.08 L538.88,1059.94 L539.63,1058.80 L540.38,1057.67 L541.13,1056.54 L541.88,1055.42 L542.62,1054.30 L543.37,1053.19 L544.12,1052.08 L544.87,1050.97 L545.62,1049.87 L546.37,1048.77 L547.12,1047.68 L547.86,1046.59 L548.61,1045.50 L549.36,1044.41 L550.11,1043.33 L550.86,1042.25 L551.61,1041.18 L552.36,1040.11 L553.11,1039.04 L553.85,1037.97 L554.60,1036.90 L555.35,1035.84 L556.10,1034.78 L556.85,1033.72 L557.60,1032.66 L558.35,1031.61 L559.09,1030.55 L559.84,1029.50 L560.59,1028.45 L561.34,1027.40 L562.09,1026.35 L562.84,1025.31 L563.59,1024.26 L564.34,1023.21 L565.08,1022.17 L565.83,1021.12 L566.58,1020.08 L567.33,1019.03 L568.08,1017.99 L568.83,1016.95 L569.58,1015.90 L570.33,1014.86 L571.07,1013.81 L571.82,1012.77 L572.57,1011.72 L573.32,1010.67 L574.07,1009.63 L574.82,1008.58 L575.57,1007.53 L576.31,1006.48 L577.06,1005.42 L577.81,1004.37 L578.56,1003.31 L579.31,1002.26 L580.06,1001.20 L580.81,1000.14 L581.56,999.07 L582.30,998.01 L583.05,996.94 L583.80,995.87 L584.55,994.80 L585.30,993.73 L586.05,992.65 L586.80,991.57 L587.55,990.49 L588.29,989.40 L589.04,988.31 L589.79,987.22 L590.54,986.13 L591.29,985.03 L592.04,983.93 L592.79,982.83 L593.53,981.73 L594.28,980.62 L595.03,979.50 L595.78,978.39 L596.53,977.27 L597.28,976.15 L598.03,975.02 L598.78,973.89 L599.52,972.75 L600.27,971.62 L601.02,970.47 L601.77,969.33 L602.52,968.18 L603.27,967.02 L604.02,965.86 L604.76,964.70 L605.51,963.53 L606.26,962.36 L607.01,961.18 L607.76,960.00 L608.51,958.81 L609.26,957.62 L610.01,956.42 L610.75,955.22 L611.50,954.02 L612.25,952.80 L613.00,951.59 L613.75,950.37 L614.50,949.14 L615.25,947.90 L616.00,946.67 L616.74,945.42 L617.49,944.17 L618.24,942.92 L618.99,941.66 L619.74,940.39 L620.49,939.12 L621.24,937.84 L621.98,936.56 L622.73,935.28 L623.48,933.99 L624.23,932.69 L624.98,931.40 L625.73,930.09 L626.48,928.79 L627.23,927.48 L627.97,926.16 L628.72,924.84 L629.47,923.52 L630.22,922.20 L630.97,920.87 L631.72,919.54 L632.47,918.20 L633.22,916.87 L633.96,915.53 L634.71,914.18 L635.46,912.84 L636.21,911.49 L636.96,910.14 L637.71,908.79 L638.46,907.43 L639.20,906.08 L639.95,904.72 L640.70,903.36 L641.45,902.00 L642.20,900.64 L642.95,899.27 L643.70,897.91 L644.45,896.54 L645.19,895.18 L645.94,893.81 L646.69,892.44 L647.44,891.08 L648.19,889.71 L648.94,888.34 L649.69,886.97 L650.43,885.60 L651.18,884.23 L651.93,882.87 L652.68,881.50 L653.43,880.13 L654.18,878.77 L654.93,877.40 L655.68,876.03 L656.44,874.67 L657.20,873.30 L657.97,871.94 L658.75,870.57 L659.55,869.20 L660.35,867.83 L661.17,866.46 L662.01,865.08 L662.87,863.71 L663.75,862.33 L664.65,860.94 L665.58,859.56 L666.53,858.17 L667.51,856.77 L668.52,855.37 L669.56,853.97 L670.63,852.56 L671.74,851.14 L672.89,849.72 L674.07,848.29 L675.30,846.86 L676.57,845.42 L677.88,843.97 L679.24,842.52 L680.64,841.05 L682.10,839.58 L683.60,838.10 L685.16,836.61 L686.78,835.12 L688.45,833.61 L690.18,832.09 L691.97,830.57 L693.83,829.03 L695.74,827.48 L697.73,825.92 L699.78,824.35 L701.90,822.77 L704.09,821.18 L706.35,819.57 L708.69,817.96 L711.10,816.32 L713.60,814.68 L716.17,813.02 L718.83,811.35 L721.57,809.66 L724.39,807.96 L727.31,806.25 L730.31,804.52 L733.40,802.77 L736.58,801.01 L739.85,799.23 L743.20,797.45 L746.64,795.64 L750.16,793.83 L753.76,792.00 L757.44,790.16 L761.20,788.31 L765.04,786.45 L768.96,784.57 L772.96,782.69 L777.03,780.80 L781.17,778.89 L785.39,776.98 L789.67,775.06 L794.03,773.13 L798.45,771.19 L802.95,769.24 L807.51,767.29 L812.13,765.33 L816.82,763.37 L821.57,761.40 L826.39,759.42 L831.26,757.44 L836.19,755.45 L841.18,753.46 L846.23,751.47 L851.34,749.47 L856.49,747.47 L861.71,745.47 L866.97,743.47 L872.28,741.46 L877.65,739.46 L883.06,737.45 L888.52,735.44 L894.02,733.43 L899.57,731.43 L905.17,729.42 L910.80,727.41 L916.48,725.41 L922.20,723.41 L927.96,721.41 L933.75,719.42 L939.58,717.43 L945.45,715.44 L951.35,713.46 L957.28,711.48 L963.24,709.51 L969.24,707.54 L975.26,705.58 L981.31,703.62 L987.38,701.67 L993.47,699.73 L999.58,697.80 L1005.70,695.88 L1011.84,693.96 L1017.98,692.06 L1024.13,690.16 L1030.28,688.27 L1036.44,686.40 L1042.59,684.53 L1048.74,682.68 L1054.89,680.84 L1061.02,679.01 L1067.14,677.20 L1073.25,675.40 L1079.34,673.61 L1085.40,671.84 L1091.45,670.08 L1097.47,668.33 L1103.46,666.61 L1109.42,664.90 L1115.34,663.20 L1121.23,661.52 L1127.08,659.86 L1132.88,658.22 L1138.64,656.60 L1144.36,654.99 L1150.02,653.41 L1155.63,651.84 L1161.19,650.30 L1166.69,648.78 L1172.12,647.27 L1177.49,645.79 L1182.80,644.33 L1188.04,642.90 L1193.20,641.49 L1198.29,640.10 L1203.30,638.73 L1208.24,637.39 L1213.09,636.08 L1217.85,634.78 L1222.53,633.52 L1227.11,632.28 L1231.61,631.07 L1236.00,629.89 L1240.30,628.73 L1244.49,627.60 L1248.59,626.50 L1252.58,625.43 L1256.46,624.39 L1260.26,623.37 L1263.96,622.38 L1267.56,621.42 L1271.08,620.48 L1274.52,619.57 L1277.87,618.68 L1281.15,617.81 L1284.35,616.96 L1287.48,616.14 L1290.53,615.34 L1293.52,614.56 L1296.45,613.80 L1299.32,613.06 L1302.13,612.34 L1304.88,611.64 L1307.58,610.96 L1310.23,610.29 L1312.84,609.64 L1315.41,609.01 L1317.93,608.39 L1320.42,607.78 L1322.88,607.20 L1325.30,606.62 L1327.70,606.06 L1330.07,605.51 L1332.42,604.97 L1334.76,604.44 L1337.07,603.92 L1339.38,603.41 L1341.67,602.91 L1343.96,602.42 L1346.24,601.94 L1348.53,601.47 L1350.81,601.00 L1353.10,600.54 L1355.40,600.08 L1357.72,599.63 L1360.04,599.19 L1362.39,598.74 L1364.75,598.30 L1367.14,597.87 L1369.55,597.43 L1371.99,597.00 L1374.47,596.56 L1376.98,596.13 L1379.53,595.70 L1382.12,595.26 L1384.76,594.83 L1387.44,594.39 L1390.17,593.95 L1392.94,593.51 L1395.76,593.06 L1398.63,592.62 L1401.55,592.17 L1404.53,591.73 L1407.55,591.28 L1410.62,590.83 L1413.75,590.39 L1416.92,589.94 L1420.16,589.49 L1423.44,589.04 L1426.79,588.59 L1430.18,588.14 L1433.64,587.70 L1437.15,587.25 L1440.73,586.80 L1444.36,586.36 L1448.05,585.91 L1451.80,585.47 L1455.61,585.03 L1459.49,584.59 L1463.42,584.15 L1467.42,583.72 L1471.49,583.28 L1475.62,582.85 L1479.82,582.42 L1484.08,581.99 L1488.41,581.56 L1492.81,581.14 L1497.28,580.72 L1501.82,580.30 L1506.43,579.89 L1511.10,579.48 L1515.86,579.07 L1520.68,578.67 L1525.58,578.27 L1530.55,577.87 L1535.59,577.48 L1540.72,577.09 L1545.91,576.71 L1551.19,576.33 L1556.54,575.95 L1561.98,575.58 L1567.49,575.22 L1573.08,574.86 L1578.75,574.50 L1584.51,574.15 L1590.34,573.81 L1596.27,573.47 L1602.31,573.13 L1608.45,572.80 L1614.71,572.47 L1621.11,572.14 L1627.65,571.80 L1634.34,571.47 L1641.20,571.13 L1648.22,570.79 L1655.43,570.45 L1662.83,570.10 L1670.43,569.74 L1678.25,569.38 L1686.29,569.01 L1694.56,568.63 L1703.07,568.23 L1711.84,567.83 L1720.87,567.41 L1730.17,566.98 L1739.75,566.54 L1749.63,566.07 L1759.81,565.60 L1770.31,565.10 L1781.12,564.59 L1792.27,564.05 L1803.77,563.50 L1815.62,562.92 L1827.83,562.32 L1840.41,561.70 L1853.38,561.05 L1866.74,560.38 L1880.51,559.67 L1894.69,558.95 L1909.29,558.19 L1924.33,557.40 L1939.81,556.58 L1955.75,555.73 L1972.15,554.85 L1989.02,553.93 L2006.38,552.98 L2024.23,551.99 L2042.59,550.97 L2061.46,549.90 L2080.86,548.80 L2100.79,547.66 L2121.26,546.47 L2142.29,545.25 L2163.89,543.98 L2186.06,542.67" fill="none" stroke="#ff00ff" stroke-width="4.4" stroke-linejoin="round" stroke-linecap="round"/>
<polygon points="392.20,1560.87 407.45,1535.87 376.95,1535.87" fill="#ff00ff" stroke="#ff00ff" stroke-width="1" stroke-linejoin="round"/>
<polygon points="429.57,1321.70 444.82,1296.70 414.32,1296.70" fill="#ff00ff" stroke="#ff00ff" stroke-width="1" stroke-linejoin="round"/>
<polygon points="466.94,1226.63 482.19,1201.63 451.69,1201.63" fill="#ff00ff" stroke="#ff00ff" stroke-width="1" stroke-linejoin="round"/>
<polygon points="504.32,1132.00 519.57,1107.00 489.07,1107.00" fill="#ff00ff" stroke="#ff00ff" stroke-width="1" stroke-linejoin="round"/>
<polygon points="541.69,1070.54 556.94,1045.54 526.44,1045.54" fill="#ff00ff" stroke="#ff00ff" stroke-width="1" stroke-linejoin="round"/>
<polygon points="579.06,1020.04 594.31,995.04 563.81,995.04" fill="#ff00ff" stroke="#ff00ff" stroke-width="1" stroke-linejoin="round"/>
<polygon points="616.43,964.95 631.68,939.95 601.18,939.95" fill="#ff00ff" stroke="#ff00ff" stroke-width="1" stroke-linejoin="round"/>
<polygon points="653.80,895.79 669.05,870.79 638.55,870.79" fill="#ff00ff" stroke="#ff00ff" stroke-width="1" stroke-linejoin="round"/>
<polygon points="691.18,828.56 706.43,803.56 675.93,803.56" fill="#ff00ff" stroke="#ff00ff" stroke-width="1" stroke-linejoin="round"/>
<polygon points="952.78,723.12 968.03,698.12 937.53,698.12" fill="#ff00ff" stroke="#ff00ff" stroke-width="1" stroke-linejoin="round"/>
<polygon points="1289.13,632.05 1304.38,607.05 1273.88,607.05" fill="#ff00ff" stroke="#ff00ff" stroke-width="1" stroke-linejoin="round"/>
<polygon points="1363.87,612.65 1379.12,587.65 1348.62,587.65" fill="#ff00ff" stroke="#ff00ff" stroke-width="1" stroke-linejoin="round"/>
<polygon points="1550.73,588.51 1565.98,563.51 1535.48,563.51" fill="#ff00ff" stroke="#ff00ff" stroke-width="1" stroke-linejoin="round"/>
<polygon points="1812.34,581.55 1827.59,556.55 1797.09,556.55" fill="#ff00ff" stroke="#ff00ff" stroke-width="1" stroke-linejoin="round"/>
<polygon points="2186.06,559.33 2201.31,534.33 2170.81,534.33" fill="#ff00ff" stroke="#ff00ff" stroke-width="1" stroke-linejoin="round"/>
<g stroke="#000000" stroke-width="3" stroke-linecap="round" fill="none">
<line x1="415.27" y1="1463.49" x2="443.87" y2="1463.49"/>
<line x1="415.27" y1="1475.34" x2="443.87" y2="1475.34"/>
<line x1="452.64" y1="1457.42" x2="481.24" y2="1457.42"/>
<line x1="452.64" y1="1475.19" x2="481.24" y2="1475.19"/>
<line x1="490.02" y1="1453.12" x2="518.62" y2="1453.12"/>
<line x1="490.02" y1="1472.08" x2="518.62" y2="1472.08"/>
<line x1="527.39" y1="1443.50" x2="555.99" y2="1443.50"/>
<line x1="527.39" y1="1457.42" x2="555.99" y2="1457.42"/>
<line x1="564.76" y1="1424.84" x2="593.36" y2="1424.84"/>
<line x1="564.76" y1="1443.50" x2="593.36" y2="1443.50"/>
<line x1="602.13" y1="1407.22" x2="630.73" y2="1407.22"/>
<line x1="602.13" y1="1427.36" x2="630.73" y2="1427.36"/>
<line x1="616.43" y1="1407.22" x2="616.43" y2="1407.29"/>
<line x1="616.43" y1="1427.29" x2="616.43" y2="1427.36"/>
<line x1="639.50" y1="1395.52" x2="668.10" y2="1395.52"/>
<line x1="639.50" y1="1412.99" x2="668.10" y2="1412.99"/>
<line x1="676.88" y1="1381.00" x2="705.48" y2="1381.00"/>
<line x1="676.88" y1="1407.36" x2="705.48" y2="1407.36"/>
<line x1="691.18" y1="1381.00" x2="691.18" y2="1384.18"/>
<line x1="691.18" y1="1404.18" x2="691.18" y2="1407.36"/>
<line x1="938.48" y1="1377.15" x2="967.08" y2="1377.15"/>
<line x1="938.48" y1="1399.96" x2="967.08" y2="1399.96"/>
<line x1="952.78" y1="1377.15" x2="952.78" y2="1378.56"/>
<line x1="952.78" y1="1398.56" x2="952.78" y2="1399.96"/>
<line x1="1274.83" y1="1371.68" x2="1303.43" y2="1371.68"/>
<line x1="1274.83" y1="1392.41" x2="1303.43" y2="1392.41"/>
<line x1="1289.13" y1="1371.68" x2="1289.13" y2="1372.04"/>
<line x1="1289.13" y1="1392.04" x2="1289.13" y2="1392.41"/>
<line x1="1349.57" y1="1361.46" x2="1378.17" y2="1361.46"/>
<line x1="1349.57" y1="1388.41" x2="1378.17" y2="1388.41"/>
<line x1="1363.87" y1="1361.46" x2="1363.87" y2="1364.93"/>
<line x1="1363.87" y1="1384.93" x2="1363.87" y2="1388.41"/>
<line x1="1536.43" y1="1355.09" x2="1565.03" y2="1355.09"/>
<line x1="1536.43" y1="1378.78" x2="1565.03" y2="1378.78"/>
<line x1="1550.73" y1="1355.09" x2="1550.73" y2="1356.94"/>
<line x1="1550.73" y1="1376.94" x2="1550.73" y2="1378.78"/>
<line x1="1798.04" y1="1354.35" x2="1826.64" y2="1354.35"/>
<line x1="1798.04" y1="1377.75" x2="1826.64" y2="1377.75"/>
<line x1="1812.34" y1="1354.35" x2="1812.34" y2="1356.05"/>
<line x1="1812.34" y1="1376.05" x2="1812.34" y2="1377.75"/>
<line x1="2171.76" y1="1349.17" x2="2200.36" y2="1349.17"/>
<line x1="2171.76" y1="1376.12" x2="2200.36" y2="1376.12"/>
<line x1="2186.06" y1="1349.17" x2="2186.06" y2="1352.64"/>
<line x1="2186.06" y1="1372.64" x2="2186.06" y2="1376.12"/>
</g>
<g stroke="#ff0000" stroke-width="3" stroke-linecap="round" fill="none">
<line x1="415.27" y1="1452.68" x2="443.87" y2="1452.68"/>
<line x1="415.27" y1="1485.56" x2="443.87" y2="1485.56"/>
<line x1="429.57" y1="1452.68" x2="429.57" y2="1457.12"/>
<line x1="429.57" y1="1481.12" x2="429.57" y2="1485.56"/>
<line x1="452.64" y1="1387.08" x2="481.24" y2="1387.08"/>
<line x1="452.64" y1="1413.44" x2="481.24" y2="1413.44"/>
<line x1="466.94" y1="1387.08" x2="466.94" y2="1388.26"/>
<line x1="466.94" y1="1412.26" x2="466.94" y2="1413.44"/>
<line x1="490.02" y1="1333.91" x2="518.62" y2="1333.91"/>
<line x1="490.02" y1="1357.90" x2="518.62" y2="1357.90"/>
<line x1="527.39" y1="1272.60" x2="555.99" y2="1272.60"/>
<line x1="527.39" y1="1311.40" x2="555.99" y2="1311.40"/>
<line x1="541.69" y1="1272.60" x2="541.69" y2="1280.00"/>
<line x1="541.69" y1="1304.00" x2="541.69" y2="1311.40"/>
<line x1="564.76" y1="1227.44" x2="593.36" y2="1227.44"/>
<line x1="564.76" y1="1262.98" x2="593.36" y2="1262.98"/>
<line x1="579.06" y1="1227.44" x2="579.06" y2="1233.21"/>
<line x1="579.06" y1="1257.21" x2="579.06" y2="1262.98"/>
<line x1="602.13" y1="1188.19" x2="630.73" y2="1188.19"/>
<line x1="602.13" y1="1235.28" x2="630.73" y2="1235.28"/>
<line x1="616.43" y1="1188.19" x2="616.43" y2="1199.74"/>
<line x1="616.43" y1="1223.74" x2="616.43" y2="1235.28"/>
<line x1="639.50" y1="1139.47" x2="668.10" y2="1139.47"/>
<line x1="639.50" y1="1192.19" x2="668.10" y2="1192.19"/>
<line x1="653.80" y1="1139.47" x2="653.80" y2="1153.83"/>
<line x1="653.80" y1="1177.83" x2="653.80" y2="1192.19"/>
<line x1="676.88" y1="1116.07" x2="705.48" y2="1116.07"/>
<line x1="676.88" y1="1152.21" x2="705.48" y2="1152.21"/>
<line x1="691.18" y1="1116.07" x2="691.18" y2="1122.14"/>
<line x1="691.18" y1="1146.14" x2="691.18" y2="1152.21"/>
<line x1="938.48" y1="1052.84" x2="967.08" y2="1052.84"/>
<line x1="938.48" y1="1100.82" x2="967.08" y2="1100.82"/>
<line x1="952.78" y1="1052.84" x2="952.78" y2="1064.83"/>
<line x1="952.78" y1="1088.83" x2="952.78" y2="1100.82"/>
<line x1="1274.83" y1="984.12" x2="1303.43" y2="984.12"/>
<line x1="1274.83" y1="1010.78" x2="1303.43" y2="1010.78"/>
<line x1="1289.13" y1="984.12" x2="1289.13" y2="985.45"/>
<line x1="1289.13" y1="1009.45" x2="1289.13" y2="1010.78"/>
<line x1="1349.57" y1="978.64" x2="1378.17" y2="978.64"/>
<line x1="1349.57" y1="1005.89" x2="1378.17" y2="1005.89"/>
<line x1="1363.87" y1="978.64" x2="1363.87" y2="980.27"/>
<line x1="1363.87" y1="1004.27" x2="1363.87" y2="1005.89"/>
<line x1="1536.43" y1="962.95" x2="1565.03" y2="962.95"/>
<line x1="1536.43" y1="1009.74" x2="1565.03" y2="1009.74"/>
<line x1="1550.73" y1="962.95" x2="1550.73" y2="974.34"/>
<line x1="1550.73" y1="998.34" x2="1550.73" y2="1009.74"/>
<line x1="1798.04" y1="961.91" x2="1826.64" y2="961.91"/>
<line x1="1798.04" y1="1003.67" x2="1826.64" y2="1003.67"/>
<line x1="1812.34" y1="961.91" x2="1812.34" y2="970.79"/>
<line x1="1812.34" y1="994.79" x2="1812.34" y2="1003.67"/>
<line x1="2171.76" y1="948.29" x2="2200.36" y2="948.29"/>
<line x1="2171.76" y1="996.27" x2="2200.36" y2="996.27"/>
<line x1="2186.06" y1="948.29" x2="2186.06" y2="960.28"/>
<line x1="2186.06" y1="984.28" x2="2186.06" y2="996.27"/>
</g>
<g stroke="#0000ff" stroke-width="3" stroke-linecap="round" fill="none">
<line x1="415.27" y1="1466.60" x2="443.87" y2="1466.60"/>
<line x1="415.27" y1="1499.18" x2="443.87" y2="1499.18"/>
<line x1="429.57" y1="1466.60" x2="429.57" y2="1467.89"/>
<line x1="429.57" y1="1497.89" x2="429.57" y2="1499.18"/>
<line x1="452.64" y1="1397.59" x2="481.24" y2="1397.59"/>
<line x1="452.64" y1="1443.79" x2="481.24" y2="1443.79"/>
<line x1="466.94" y1="1397.59" x2="466.94" y2="1405.69"/>
<line x1="466.94" y1="1435.69" x2="466.94" y2="1443.79"/>
<line x1="490.02" y1="1351.39" x2="518.62" y2="1351.39"/>
<line x1="490.02" y1="1392.56" x2="518.62" y2="1392.56"/>
<line x1="504.32" y1="1351.39" x2="504.32" y2="1356.97"/>
<line x1="504.32" y1="1386.97" x2="504.32" y2="1392.56"/>
<line x1="527.39" y1="1315.99" x2="555.99" y2="1315.99"/>
<line x1="527.39" y1="1342.65" x2="555.99" y2="1342.65"/>
<line x1="564.76" y1="1260.61" x2="593.36" y2="1260.61"/>
<line x1="564.76" y1="1317.18" x2="593.36" y2="1317.18"/>
<line x1="579.06" y1="1260.61" x2="579.06" y2="1273.89"/>
<line x1="579.06" y1="1303.89" x2="579.06" y2="1317.18"/>
<line x1="602.13" y1="1217.22" x2="630.73" y2="1217.22"/>
<line x1="602.13" y1="1270.53" x2="630.73" y2="1270.53"/>
<line x1="616.43" y1="1217.22" x2="616.43" y2="1228.87"/>
<line x1="616.43" y1="1258.87" x2="616.43" y2="1270.53"/>
<line x1="639.50" y1="1184.49" x2="668.10" y2="1184.49"/>
<line x1="639.50" y1="1241.36" x2="668.10" y2="1241.36"/>
<line x1="653.80" y1="1184.49" x2="653.80" y2="1197.92"/>
<line x1="653.80" y1="1227.92" x2="653.80" y2="1241.36"/>
<line x1="676.88" y1="1147.47" x2="705.48" y2="1147.47"/>
<line x1="676.88" y1="1207.00" x2="705.48" y2="1207.00"/>
<line x1="691.18" y1="1147.47" x2="691.18" y2="1162.23"/>
<line x1="691.18" y1="1192.23" x2="691.18" y2="1207.00"/>
<line x1="938.48" y1="1110.44" x2="967.08" y2="1110.44"/>
<line x1="938.48" y1="1148.95" x2="967.08" y2="1148.95"/>
<line x1="952.78" y1="1110.44" x2="952.78" y2="1114.70"/>
<line x1="952.78" y1="1144.70" x2="952.78" y2="1148.95"/>
<line x1="1274.83" y1="1072.09" x2="1303.43" y2="1072.09"/>
<line x1="1274.83" y1="1098.75" x2="1303.43" y2="1098.75"/>
<line x1="1349.57" y1="1050.76" x2="1378.17" y2="1050.76"/>
<line x1="1349.57" y1="1104.97" x2="1378.17" y2="1104.97"/>
<line x1="1363.87" y1="1050.76" x2="1363.87" y2="1062.86"/>
<line x1="1363.87" y1="1092.86" x2="1363.87" y2="1104.97"/>
<line x1="1536.43" y1="1053.43" x2="1565.03" y2="1053.43"/>
<line x1="1536.43" y1="1109.41" x2="1565.03" y2="1109.41"/>
<line x1="1550.73" y1="1053.43" x2="1550.73" y2="1066.42"/>
<line x1="1550.73" y1="1096.42" x2="1550.73" y2="1109.41"/>
<line x1="1798.04" y1="1046.62" x2="1826.64" y2="1046.62"/>
<line x1="1798.04" y1="1105.85" x2="1826.64" y2="1105.85"/>
<line x1="1812.34" y1="1046.62" x2="1812.34" y2="1061.24"/>
<line x1="1812.34" y1="1091.24" x2="1812.34" y2="1105.85"/>
<line x1="2171.76" y1="1032.25" x2="2200.36" y2="1032.25"/>
<line x1="2171.76" y1="1092.67" x2="2200.36" y2="1092.67"/>
<line x1="2186.06" y1="1032.25" x2="2186.06" y2="1047.46"/>
<line x1="2186.06" y1="1077.46" x2="2186.06" y2="1092.67"/>
</g>
<g stroke="#ff00ff" stroke-width="3" stroke-linecap="round" fill="none">
<line x1="415.27" y1="1275.42" x2="443.87" y2="1275.42"/>
<line x1="415.27" y1="1334.65" x2="443.87" y2="1334.65"/>
<line x1="429.57" y1="1275.42" x2="429.57" y2="1290.03"/>
<line x1="429.57" y1="1320.03" x2="429.57" y2="1334.65"/>
<line x1="452.64" y1="1182.27" x2="481.24" y2="1182.27"/>
<line x1="452.64" y1="1237.65" x2="481.24" y2="1237.65"/>
<line x1="466.94" y1="1182.27" x2="466.94" y2="1194.96"/>
<line x1="466.94" y1="1224.96" x2="466.94" y2="1237.65"/>
<line x1="490.02" y1="1096.08" x2="518.62" y2="1096.08"/>
<line x1="490.02" y1="1134.58" x2="518.62" y2="1134.58"/>
<line x1="504.32" y1="1096.08" x2="504.32" y2="1100.33"/>
<line x1="504.32" y1="1130.33" x2="504.32" y2="1134.58"/>
<line x1="527.39" y1="1032.10" x2="555.99" y2="1032.10"/>
<line x1="527.39" y1="1075.64" x2="555.99" y2="1075.64"/>
<line x1="541.69" y1="1032.10" x2="541.69" y2="1038.87"/>
<line x1="541.69" y1="1068.87" x2="541.69" y2="1075.64"/>
<line x1="564.76" y1="975.39" x2="593.36" y2="975.39"/>
<line x1="564.76" y1="1031.36" x2="593.36" y2="1031.36"/>
<line x1="579.06" y1="975.39" x2="579.06" y2="988.38"/>
<line x1="579.06" y1="1018.38" x2="579.06" y2="1031.36"/>
<line x1="602.13" y1="924.30" x2="630.73" y2="924.30"/>
<line x1="602.13" y1="972.28" x2="630.73" y2="972.28"/>
<line x1="616.43" y1="924.30" x2="616.43" y2="933.29"/>
<line x1="616.43" y1="963.29" x2="616.43" y2="972.28"/>
<line x1="639.50" y1="852.18" x2="668.10" y2="852.18"/>
<line x1="639.50" y1="906.08" x2="668.10" y2="906.08"/>
<line x1="653.80" y1="852.18" x2="653.80" y2="864.13"/>
<line x1="653.80" y1="894.13" x2="653.80" y2="906.08"/>
<line x1="676.88" y1="782.28" x2="705.48" y2="782.28"/>
<line x1="676.88" y1="841.51" x2="705.48" y2="841.51"/>
<line x1="691.18" y1="782.28" x2="691.18" y2="796.89"/>
<line x1="691.18" y1="826.89" x2="691.18" y2="841.51"/>
<line x1="938.48" y1="675.06" x2="967.08" y2="675.06"/>
<line x1="938.48" y1="737.85" x2="967.08" y2="737.85"/>
<line x1="952.78" y1="675.06" x2="952.78" y2="691.45"/>
<line x1="952.78" y1="721.45" x2="952.78" y2="737.85"/>
<line x1="1274.83" y1="591.24" x2="1303.43" y2="591.24"/>
<line x1="1274.83" y1="639.52" x2="1303.43" y2="639.52"/>
<line x1="1289.13" y1="591.24" x2="1289.13" y2="600.38"/>
<line x1="1289.13" y1="630.38" x2="1289.13" y2="639.52"/>
<line x1="1349.57" y1="568.88" x2="1378.17" y2="568.88"/>
<line x1="1349.57" y1="623.08" x2="1378.17" y2="623.08"/>
<line x1="1363.87" y1="568.88" x2="1363.87" y2="580.98"/>
<line x1="1363.87" y1="610.98" x2="1363.87" y2="623.08"/>
<line x1="1536.43" y1="543.70" x2="1565.03" y2="543.70"/>
<line x1="1536.43" y1="599.98" x2="1565.03" y2="599.98"/>
<line x1="1550.73" y1="543.70" x2="1550.73" y2="556.84"/>
<line x1="1550.73" y1="586.84" x2="1550.73" y2="599.98"/>
<line x1="1798.04" y1="535.26" x2="1826.64" y2="535.26"/>
<line x1="1798.04" y1="594.50" x2="1826.64" y2="594.50"/>
<line x1="1812.34" y1="535.26" x2="1812.34" y2="549.88"/>
<line x1="1812.34" y1="579.88" x2="1812.34" y2="594.50"/>
<line x1="2171.76" y1="513.20" x2="2200.36" y2="513.20"/>
<line x1="2171.76" y1="572.14" x2="2200.36" y2="572.14"/>
<line x1="2186.06" y1="513.20" x2="2186.06" y2="527.67"/>
<line x1="2186.06" y1="557.67" x2="2186.06" y2="572.14"/>
</g>
</g>
<rect x="413.5" y="99.8" width="1336" height="372.2" fill="none" stroke="#000" stroke-width="3" stroke-linejoin="round"/>
<g stroke="#000000" stroke-width="4.4" stroke-linecap="round"><line x1="453.4" y1="159.30" x2="518.9" y2="159.30"/><line x1="548.6" y1="159.30" x2="614.1" y2="159.30"/></g>
<rect x="522.83" y="148.33" width="20.95" height="20.95" fill="#000000" stroke="#000000" stroke-width="1.2" stroke-linejoin="round"/>
<text transform="translate(633.5,183.90) scale(1,1.03)" font-size="72.7">oxCNTs@GPEI5K/DOX, p<tspan font-style="italic">H</tspan>=7.4</text>
<g stroke="#ff0000" stroke-width="4.4" stroke-linecap="round"><line x1="453.4" y1="247.60" x2="518.9" y2="247.60"/><line x1="548.6" y1="247.60" x2="614.1" y2="247.60"/></g>
<circle cx="533.30" cy="247.60" r="11.75" fill="#ff0000"/>
<text transform="translate(633.5,272.20) scale(1,1.03)" font-size="72.7">oxCNTs@GPEI5K/DOX, p<tspan font-style="italic">H</tspan>=5.5</text>
<g stroke="#0000ff" stroke-width="4.4" stroke-linecap="round"><line x1="453.4" y1="335.90" x2="518.9" y2="335.90"/><line x1="548.6" y1="335.90" x2="614.1" y2="335.90"/></g>
<polygon points="533.30,320.07 547.79,343.82 518.81,343.82" fill="#0000ff" stroke="#0000ff" stroke-width="1" stroke-linejoin="round"/>
<text transform="translate(633.5,360.50) scale(1,1.03)" font-size="72.7">oxCNTs@GPEI25K/DOX, p<tspan font-style="italic">H</tspan>=7.4</text>
<g stroke="#ff00ff" stroke-width="4.4" stroke-linecap="round"><line x1="453.4" y1="424.20" x2="518.9" y2="424.20"/><line x1="548.6" y1="424.20" x2="614.1" y2="424.20"/></g>
<polygon points="533.30,440.03 547.79,416.28 518.81,416.28" fill="#ff00ff" stroke="#ff00ff" stroke-width="1" stroke-linejoin="round"/>
<text transform="translate(633.5,448.80) scale(1,1.03)" font-size="72.7">oxCNTs@GPEI25K/DOX, p<tspan font-style="italic">H</tspan>=5.5</text>
</svg>
</body></html>
